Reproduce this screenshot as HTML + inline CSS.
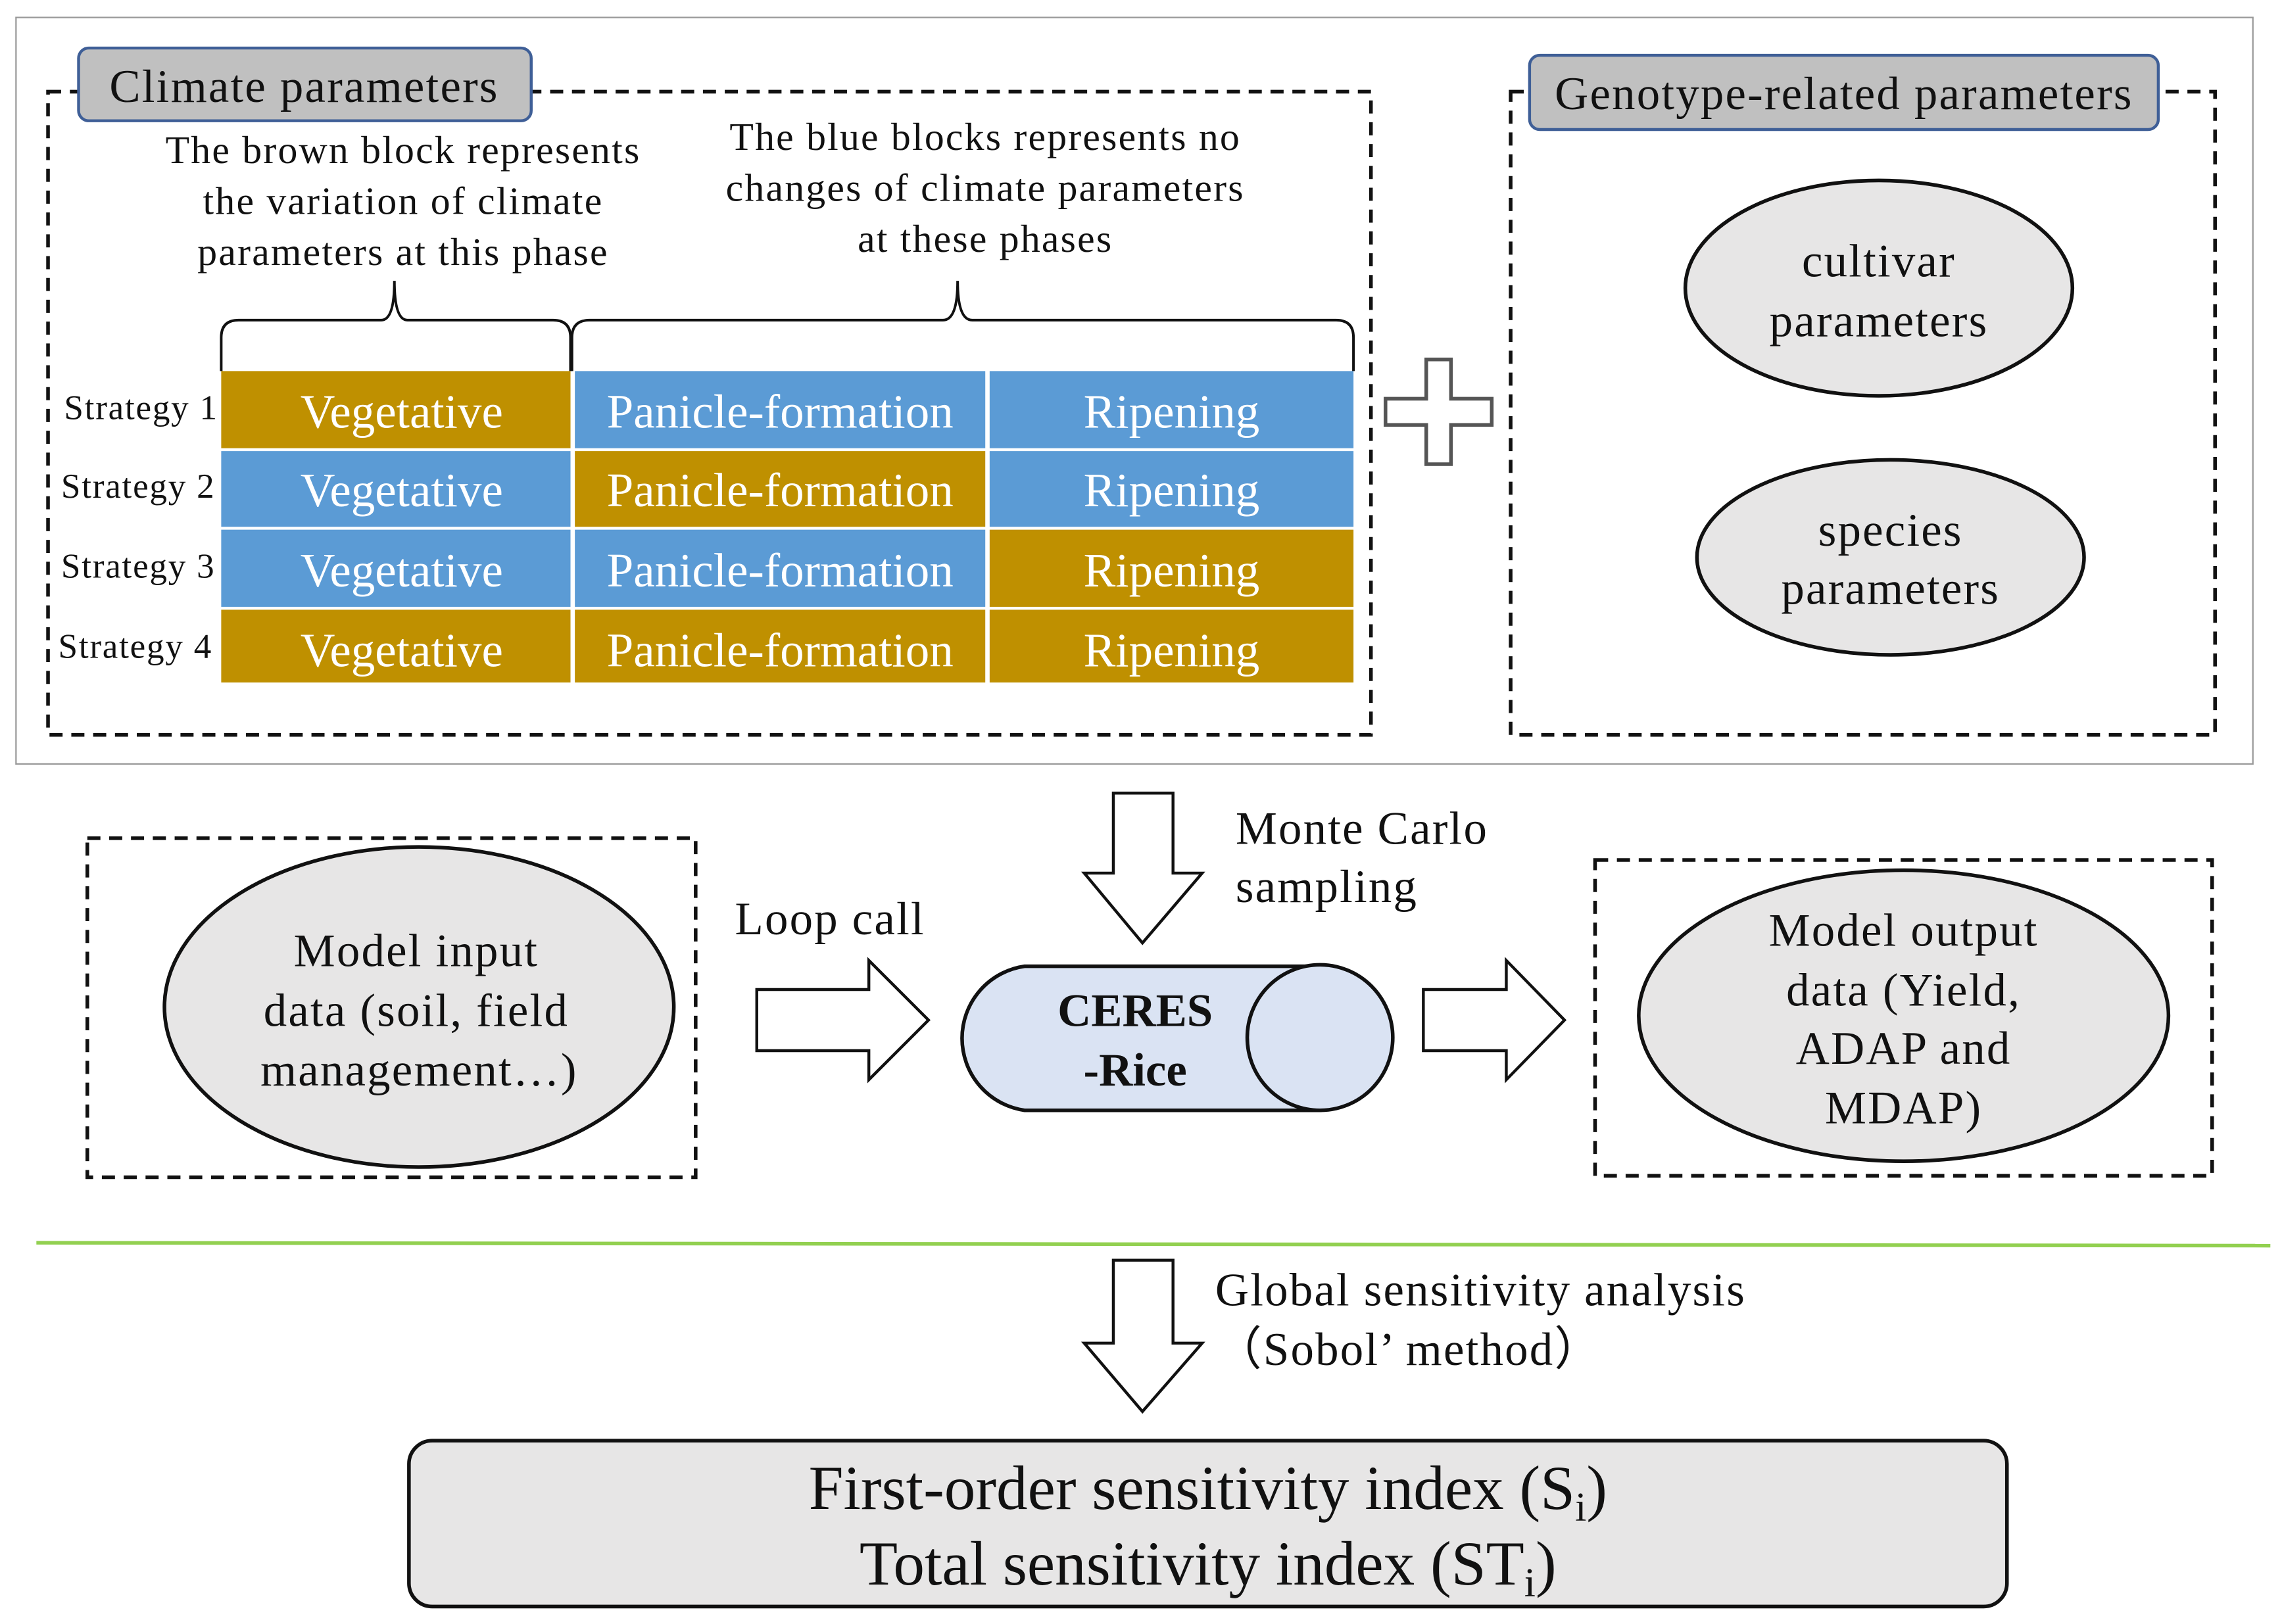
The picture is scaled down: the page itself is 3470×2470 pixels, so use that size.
<!DOCTYPE html>
<html><head><meta charset="utf-8"><style>
html,body{margin:0;padding:0;background:#fff}
svg{display:block}
text{font-family:"Liberation Serif",serif;fill:#111}
</style></head><body>
<svg width="3470" height="2470" viewBox="0 0 1568 1116" preserveAspectRatio="none" xmlns="http://www.w3.org/2000/svg">
<rect x="11" y="12" width="1537" height="513" fill="none" stroke="#999" stroke-width="1"/>
<rect x="33" y="63" width="909" height="442" fill="none" stroke="#111" stroke-width="2.5" stroke-dasharray="9,6"/>
<rect x="54" y="33" width="311" height="50" rx="7" fill="#c0c0c0" stroke="#3f5f97" stroke-width="2"/>
<text x="209" y="70" font-size="32" letter-spacing="1" text-anchor="middle">Climate parameters</text>
<rect x="1038" y="63" width="484" height="442" fill="none" stroke="#111" stroke-width="2.5" stroke-dasharray="9,6"/>
<rect x="1051" y="38" width="432" height="51" rx="7" fill="#c0c0c0" stroke="#3f5f97" stroke-width="2"/>
<text x="1267" y="75" font-size="32" letter-spacing="1" text-anchor="middle">Genotype-related parameters</text>
<ellipse cx="1291" cy="198" rx="133" ry="74" fill="#e7e6e6" stroke="#111" stroke-width="2.5"/>
<text x="1291" y="190" font-size="32" letter-spacing="1" text-anchor="middle">cultivar</text>
<text x="1291" y="231" font-size="32" letter-spacing="1" text-anchor="middle">parameters</text>
<ellipse cx="1299" cy="383" rx="133" ry="67" fill="#e7e6e6" stroke="#111" stroke-width="2.5"/>
<text x="1299" y="375" font-size="32" letter-spacing="1" text-anchor="middle">species</text>
<text x="1299" y="415" font-size="32" letter-spacing="1" text-anchor="middle">parameters</text>
<path d="M980,247 H997 V274 H1025 V292 H997 V319 H980 V292 H952 V274 H980 Z" fill="#fff" stroke="#555" stroke-width="2.5"/>
<g font-size="27" letter-spacing="1" text-anchor="middle">
<text x="277" y="112">The brown block represents</text>
<text x="277" y="147">the variation of climate</text>
<text x="277" y="182">parameters at this phase</text>
<text x="677" y="103">The blue blocks represents no</text>
<text x="677" y="138">changes of climate parameters</text>
<text x="677" y="173">at these phases</text>
</g>
<path d="M152,255 V232 Q152,220 164,220 H262 Q271,220 271,193 Q271,220 280,220 H380 Q392,220 392,232 V255" fill="none" stroke="#111" stroke-width="1.8"/>
<path d="M393,255 V232 Q393,220 405,220 H648 Q658,220 658,193 Q658,220 668,220 H918 Q930,220 930,232 V255" fill="none" stroke="#111" stroke-width="1.8"/>
<rect x="152" y="255" width="240" height="53" fill="#bf9000"/><rect x="395" y="255" width="282" height="53" fill="#5b9bd5"/><rect x="680" y="255" width="250" height="53" fill="#5b9bd5"/>
<rect x="152" y="310" width="240" height="52" fill="#5b9bd5"/><rect x="395" y="310" width="282" height="52" fill="#bf9000"/><rect x="680" y="310" width="250" height="52" fill="#5b9bd5"/>
<rect x="152" y="364" width="240" height="53" fill="#5b9bd5"/><rect x="395" y="364" width="282" height="53" fill="#5b9bd5"/><rect x="680" y="364" width="250" height="53" fill="#bf9000"/>
<rect x="152" y="419" width="240" height="50" fill="#bf9000"/><rect x="395" y="419" width="282" height="50" fill="#bf9000"/><rect x="680" y="419" width="250" height="50" fill="#bf9000"/>
<g font-size="33" text-anchor="middle">
<text x="276" y="294" style="fill:#fff">Vegetative</text><text x="536" y="294" style="fill:#fff">Panicle-formation</text><text x="805" y="294" style="fill:#fff">Ripening</text>
<text x="276" y="348" style="fill:#fff">Vegetative</text><text x="536" y="348" style="fill:#fff">Panicle-formation</text><text x="805" y="348" style="fill:#fff">Ripening</text>
<text x="276" y="403" style="fill:#fff">Vegetative</text><text x="536" y="403" style="fill:#fff">Panicle-formation</text><text x="805" y="403" style="fill:#fff">Ripening</text>
<text x="276" y="458" style="fill:#fff">Vegetative</text><text x="536" y="458" style="fill:#fff">Panicle-formation</text><text x="805" y="458" style="fill:#fff">Ripening</text>
</g>
<g font-size="24" letter-spacing="0.8">
<text x="44" y="288">Strategy 1</text><text x="42" y="342">Strategy 2</text><text x="42" y="397">Strategy 3</text><text x="40" y="452">Strategy 4</text>
</g>
<path d="M765,545 H806 V600 H826 L785,648 L745,600 H765 Z" fill="#fff" stroke="#111" stroke-width="2"/>
<text x="849" y="580" font-size="32" letter-spacing="1">Monte Carlo</text>
<text x="849" y="620" font-size="32" letter-spacing="1">sampling</text>
<rect x="60" y="576" width="418" height="233" fill="none" stroke="#111" stroke-width="2.5" stroke-dasharray="9,6"/>
<ellipse cx="288" cy="692" rx="175" ry="110" fill="#e7e6e6" stroke="#111" stroke-width="2.5"/>
<g font-size="32" letter-spacing="1" text-anchor="middle"><text x="286" y="664">Model input</text><text x="286" y="705">data (soil, field</text><text x="288" y="746">management…)</text></g>
<text x="505" y="642" font-size="32" letter-spacing="1">Loop call</text>
<path d="M520,680 H597 V660 L638,701 L597,742 V722 H520 Z" fill="#fff" stroke="#111" stroke-width="2"/>
<path d="M704,664 H907 A50,50 0 0 1 907,763 H704 A50,50 0 0 1 704,664 Z" fill="#dae3f3" stroke="#111" stroke-width="2.5"/>
<ellipse cx="907" cy="713" rx="50" ry="50" fill="#dae3f3" stroke="#111" stroke-width="2.5"/>
<text x="780" y="705" font-size="32" font-weight="bold" text-anchor="middle">CERES</text>
<text x="780" y="746" font-size="32" font-weight="bold" text-anchor="middle">-Rice</text>
<path d="M978,680 H1035 V660 L1075,701 L1035,742 V722 H978 Z" fill="#fff" stroke="#111" stroke-width="2"/>
<rect x="1096" y="591" width="424" height="217" fill="none" stroke="#111" stroke-width="2.5" stroke-dasharray="9,6"/>
<ellipse cx="1308" cy="698" rx="182" ry="100" fill="#e7e6e6" stroke="#111" stroke-width="2.5"/>
<g font-size="32" letter-spacing="1" text-anchor="middle"><text x="1308" y="650">Model output</text><text x="1308" y="691">data (Yield,</text><text x="1308" y="731">ADAP and</text><text x="1308" y="772">MDAP)</text></g>
<line x1="25" y1="854" x2="1560" y2="856" stroke="#92d050" stroke-width="2.5"/>
<path d="M765,866 H806 V923 H826 L785,970 L745,923 H765 Z" fill="#fff" stroke="#111" stroke-width="2"/>
<text x="835" y="897" font-size="32" letter-spacing="1">Global sensitivity analysis</text>
<text x="835" y="938" font-size="32" letter-spacing="1">（Sobol’ method）</text>
<rect x="281" y="990" width="1098" height="114" rx="16" fill="#e7e6e6" stroke="#111" stroke-width="2.5"/>
<text x="830" y="1037" font-size="43" text-anchor="middle">First-order sensitivity index (S<tspan font-size="28" dy="8">i</tspan><tspan dy="-8">)</tspan></text>
<text x="830" y="1089" font-size="43" text-anchor="middle">Total sensitivity index (ST<tspan font-size="28" dy="8">i</tspan><tspan dy="-8">)</tspan></text>
</svg>
</body></html>
